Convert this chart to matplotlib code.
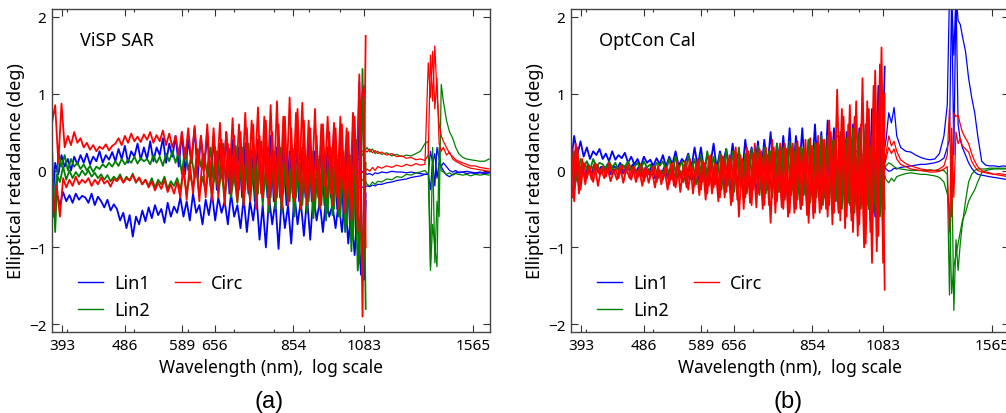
import numpy as np
import matplotlib.pyplot as plt
from matplotlib.ticker import FixedLocator, LogLocator, NullFormatter

# wavelength sampling of the visible/near-IR spectrograph (nm), 100 channels;
# the second trace of each pair sits on the staggered (half-step) channels
VIS_NM = np.geomspace(380, 1090, 100)
VIS_NM_B = np.sqrt(VIS_NM * np.append(VIS_NM[1:], 1090))

# wavelengths of the IR channels (nm)
IR_NM = [914, 930, 950, 970, 990, 1010, 1030, 1050, 1070, 1085,
         1095, 1105, 1115, 1125, 1135, 1150, 1170, 1190, 1210, 1230,
         1250, 1270, 1290, 1310, 1330, 1345, 1355, 1365, 1375, 1385,
         1395, 1405, 1415, 1430, 1445, 1460, 1475, 1490, 1510, 1530,
         1550, 1575, 1600, 1625, 1650]

TICK_NM = [393, 486, 589, 656, 854, 1083, 1565]

# ---------------- (a) ViSP SAR ----------------
a_lin1_hi = [-0.60, 0.10, -0.05, 0.20, 0.05, 0.15, 0.00, 0.18, 0.08, 0.20,
             0.10, 0.22, 0.08, 0.18, 0.12, 0.25, 0.10, 0.20, 0.14, 0.24,
             0.12, 0.28, 0.15, 0.32, 0.10, 0.25, 0.18, 0.35, 0.14, 0.30,
             0.15, 0.38, 0.12, 0.30, 0.20, 0.42, 0.10, 0.35, 0.18, 0.45,
             0.05, 0.50, -0.05, 0.40, 0.10, 0.55, -0.10, 0.45, 0.00, 0.50,
             -0.20, 0.45, -0.25, 0.35, -0.15, 0.50, -0.30, 0.40, -0.20, 0.30,
             -0.35, 0.35, -0.30, 0.25, -0.40, 0.40, -0.25, 0.30, -0.35, 0.45,
             -0.40, 0.30, -0.35, 0.40, -0.45, 0.25, -0.30, 0.35, -0.40, 0.30,
             -0.35, 0.35, -0.40, 0.25, -0.30, 0.40, -0.45, 0.30, -0.35, 0.55,
             -0.50, 0.40, -0.60, 0.35, -0.70, 0.50, -0.90, 1.15, -1.40, -0.30]
a_lin1_lo = [-0.55, -0.30, -0.45, -0.28, -0.40, -0.32, -0.42, -0.30, -0.38, -0.33,
             -0.35, -0.42, -0.30, -0.45, -0.34, -0.40, -0.48, -0.38, -0.52, -0.44,
             -0.50, -0.65, -0.55, -0.75, -0.58, -0.86, -0.60, -0.70, -0.52, -0.66,
             -0.48, -0.62, -0.45, -0.58, -0.50, -0.68, -0.42, -0.60, -0.47, -0.55,
             -0.35, -0.60, -0.40, -0.65, -0.30, -0.55, -0.45, -0.70, -0.38, -0.58,
             -0.30, -0.65, -0.35, -0.55, -0.40, -0.70, -0.30, -0.60, -0.45, -0.75,
             -0.35, -0.80, -0.40, -0.65, -0.30, -0.90, -0.45, -1.00, -0.35, -0.70,
             -0.40, -1.02, -0.35, -0.75, -0.45, -0.95, -0.30, -0.70, -0.40, -0.85,
             -0.35, -0.90, -0.30, -0.65, -0.40, -0.80, -0.35, -0.60, -0.45, -0.75,
             -0.40, -0.80, -0.35, -0.95, -0.50, -1.10, -0.60, -1.35, -1.42, -0.40]
a_lin2_hi = [0.30, -0.80, 0.25, 0.05, 0.20, 0.00, 0.15, 0.05, 0.10, 0.02,
             0.08, 0.00, 0.06, -0.02, 0.05, 0.02, 0.08, 0.04, 0.10, 0.05,
             0.12, 0.06, 0.15, 0.08, 0.14, 0.10, 0.18, 0.09, 0.16, 0.12,
             0.15, 0.08, 0.20, 0.10, 0.18, 0.06, 0.22, 0.12, 0.25, 0.10,
             0.25, -0.05, 0.30, 0.00, 0.20, -0.10, 0.28, 0.05, 0.22, -0.05,
             0.30, -0.15, 0.25, -0.10, 0.35, -0.20, 0.28, -0.15, 0.32, -0.25,
             0.30, -0.25, 0.35, -0.20, 0.25, -0.30, 0.38, -0.25, 0.30, -0.35,
             0.25, -0.35, 0.30, -0.30, 0.20, -0.40, 0.28, -0.35, 0.22, -0.45,
             0.20, -0.40, 0.25, -0.50, 0.15, -0.45, 0.22, -0.55, 0.30, -0.50,
             0.15, -0.60, 0.25, -0.70, 0.20, -0.90, 0.40, -1.20, 1.32, -1.80]
a_lin2_lo = [-0.60, -0.05, -0.15, 0.05, -0.12, 0.00, -0.10, -0.02, -0.08, 0.00,
             -0.06, 0.00, -0.08, -0.03, -0.10, -0.05, -0.12, -0.06, -0.14, -0.08,
             -0.12, -0.05, -0.15, -0.08, -0.13, -0.04, -0.16, -0.10, -0.18, -0.12,
             -0.20, -0.10, -0.22, -0.12, -0.18, -0.08, -0.24, -0.14, -0.20, -0.10,
             -0.25, 0.00, -0.30, -0.05, -0.22, 0.05, -0.32, -0.08, -0.28, 0.02,
             -0.35, 0.05, -0.30, 0.00, -0.40, 0.10, -0.35, -0.05, -0.42, 0.08,
             -0.45, 0.10, -0.40, 0.00, -0.50, 0.15, -0.45, 0.05, -0.55, 0.10,
             -0.50, 0.05, -0.55, 0.10, -0.45, 0.00, -0.60, 0.12, -0.52, 0.05,
             -0.55, 0.10, -0.62, 0.00, -0.50, 0.15, -0.65, 0.05, -0.58, 0.10,
             -0.60, 0.15, -0.80, 0.05, -1.05, 0.20, -1.30, -0.70, -1.15, 0.10]
a_circ_hi = [0.62, 0.85, 0.10, 0.87, 0.30, 0.45, 0.33, 0.50, 0.36, 0.42,
             0.30, 0.36, 0.27, 0.33, 0.25, 0.31, 0.28, 0.34, 0.26, 0.32,
             0.35, 0.42, 0.33, 0.45, 0.36, 0.48, 0.38, 0.44, 0.37, 0.47,
             0.40, 0.50, 0.36, 0.46, 0.38, 0.52, 0.33, 0.48, 0.30, 0.45,
             0.20, 0.50, 0.15, 0.55, 0.10, 0.58, 0.05, 0.45, 0.00, 0.60,
             -0.10, 0.55, -0.05, 0.62, -0.15, 0.50, -0.10, 0.68, -0.20, 0.60,
             -0.15, 0.75, -0.25, 0.65, -0.10, 0.82, -0.30, 0.70, -0.20, 0.85,
             -0.25, 0.90, -0.30, 0.70, -0.20, 0.95, -0.35, 0.75, -0.15, 0.88,
             -0.30, 0.65, -0.25, 0.80, -0.35, 0.60, -0.20, 0.70, -0.30, 0.62,
             -0.35, 0.70, -0.25, 0.55, -0.40, 0.75, -0.30, 1.25, -1.90, 1.75]
a_circ_lo = [-0.55, -0.20, -0.60, -0.10, -0.22, -0.12, -0.20, -0.08, -0.18, -0.12,
             -0.16, -0.10, -0.20, -0.12, -0.18, -0.09, -0.17, -0.13, -0.21, -0.11,
             -0.14, -0.08, -0.16, -0.10, -0.13, -0.06, -0.15, -0.09, -0.18, -0.12,
             -0.22, -0.14, -0.26, -0.16, -0.24, -0.12, -0.28, -0.18, -0.30, -0.15,
             -0.35, 0.05, -0.38, 0.10, -0.30, 0.15, -0.40, 0.20, -0.35, 0.25,
             -0.40, 0.30, -0.35, 0.40, -0.45, 0.35, -0.30, 0.45, -0.40, 0.50,
             -0.45, 0.55, -0.40, 0.60, -0.50, 0.45, -0.35, 0.65, -0.45, 0.50,
             -0.40, 0.60, -0.50, 0.70, -0.45, 0.55, -0.40, 0.80, -0.50, 0.65,
             -0.45, 0.55, -0.40, 0.45, -0.50, 0.60, -0.35, 0.50, -0.45, 0.55,
             -0.50, 0.60, -0.55, 0.50, -0.65, 0.70, -0.80, 0.90, 1.10, -1.00]

a_ir_lin1_hi = [0.05, 0.06, 0.04, 0.05, 0.03, 0.02, 0.00, 0.01, -0.01, -0.02,
                -0.05, -0.04, -0.06, -0.03, -0.04, -0.02, -0.03, -0.01, -0.02, -0.02,
                -0.03, -0.02, -0.03, -0.04, -0.05, -0.05, 0.25, 0.10, 0.22, -0.10,
                0.10, 0.05, 0.00, -0.06, -0.08, -0.05, -0.03, -0.02, -0.02, -0.01,
                -0.02, -0.03, -0.02, -0.03, -0.03]
a_ir_lin1_lo = [-0.25, -0.22, -0.24, -0.20, -0.22, -0.21, -0.23, -0.20, -0.21, -0.22,
                -0.20, -0.21, -0.19, -0.20, -0.18, -0.18, -0.16, -0.15, -0.13, -0.12,
                -0.11, -0.09, -0.08, -0.07, -0.05, -0.04, -0.25, 0.15, -0.20, 0.30,
                0.15, 0.05, 0.10, 0.05, 0.00, -0.02, 0.00, -0.03, -0.02, -0.04,
                -0.03, -0.04, -0.03, -0.04, -0.03]
a_ir_lin2_hi = [0.10, 0.12, 0.08, 0.11, 0.09, 0.12, 0.10, 0.13, 0.15, 0.25,
                0.30, 0.24, 0.28, 0.22, 0.25, 0.21, 0.23, 0.19, 0.21, 0.18,
                0.20, 0.19, 0.22, 0.25, 0.35, 0.38, -1.25, 0.30, -1.20, -0.40,
                -0.60, 1.12, 0.90, 0.65, 0.50, 0.42, 0.30, 0.22, 0.17, 0.15,
                0.14, 0.13, 0.12, 0.12, 0.15]
a_ir_lin2_lo = [-0.10, -0.12, -0.08, -0.11, -0.13, -0.10, -0.12, -0.14, -0.15, -0.10,
                -0.18, -0.20, -0.15, -0.18, -0.14, -0.15, -0.11, -0.12, -0.08, -0.09,
                -0.05, -0.06, -0.03, -0.02, 0.00, -0.05, -1.30, -0.70, -1.00, -1.25,
                0.30, 0.00, -0.02, -0.05, -0.03, -0.06, -0.04, -0.05, -0.06, -0.05,
                -0.07, -0.05, -0.06, -0.05, -0.06]
a_ir_circ_hi = [0.20, 0.18, 0.20, 0.17, 0.19, 0.16, 0.18, 0.20, 0.22, 0.27,
                0.24, 0.28, 0.23, 0.26, 0.22, 0.24, 0.20, 0.22, 0.18, 0.19,
                0.16, 0.17, 0.14, 0.15, 0.13, 0.20, 1.50, 0.90, 1.62, 1.00,
                0.60, 0.45, 0.38, 0.30, 0.22, 0.18, 0.14, 0.12, 0.10, 0.08,
                0.06, 0.06, 0.04, 0.03, 0.02]
a_ir_circ_lo = [-0.05, -0.06, -0.04, -0.07, -0.05, -0.06, -0.04, -0.05, -0.03, -0.02,
                0.02, -0.01, 0.04, 0.00, 0.05, 0.03, 0.06, 0.04, 0.07, 0.05,
                0.08, 0.06, 0.09, 0.07, 0.08, 1.40, 0.95, 1.55, 0.80, 1.20,
                0.35, 0.25, 0.30, 0.20, 0.24, 0.15, 0.12, 0.10, 0.07, 0.05,
                0.03, 0.02, 0.01, 0.00, -0.01]

# ---------------- (b) OptCon Cal ----------------
b_lin1_hi = [0.10, 0.45, 0.20, 0.38, 0.18, 0.30, 0.15, 0.25, 0.20, 0.28,
             0.15, 0.22, 0.12, 0.25, 0.14, 0.20, 0.16, 0.23, 0.10, 0.18,
             0.08, 0.15, 0.05, 0.18, 0.10, 0.14, 0.06, 0.16, 0.08, 0.20,
             0.05, 0.18, 0.08, 0.25, 0.06, 0.15, 0.10, 0.22, 0.04, 0.30,
             0.05, 0.30, 0.00, 0.20, 0.08, 0.35, 0.02, 0.25, 0.10, 0.28,
             0.00, 0.35, 0.05, 0.25, -0.05, 0.40, 0.08, 0.30, 0.00, 0.38,
             -0.05, 0.40, 0.05, 0.50, -0.10, 0.35, 0.00, 0.45, -0.05, 0.55,
             -0.10, 0.45, 0.00, 0.55, -0.15, 0.40, -0.05, 0.60, -0.10, 0.50,
             -0.20, 0.65, -0.10, 0.55, -0.30, 0.45, -0.15, 0.50, -0.25, 0.60,
             -0.40, 0.55, -0.30, 0.60, -0.50, 0.80, -0.60, 1.10, -0.45, 1.35]
b_lin1_lo = [-0.30, 0.15, -0.20, 0.05, -0.10, 0.08, -0.05, 0.10, -0.02, 0.05,
             0.00, 0.08, -0.05, 0.06, 0.02, 0.10, -0.04, 0.05, 0.00, 0.08,
             -0.02, 0.06, -0.08, 0.04, -0.05, 0.08, -0.10, 0.02, -0.06, 0.05,
             -0.10, 0.05, -0.15, 0.08, -0.08, 0.02, -0.18, 0.06, -0.12, 0.04,
             -0.15, 0.10, -0.22, 0.05, -0.18, 0.12, -0.25, 0.08, -0.20, 0.10,
             -0.30, 0.15, -0.25, 0.10, -0.35, 0.20, -0.28, 0.12, -0.32, 0.18,
             -0.35, 0.20, -0.30, 0.25, -0.40, 0.15, -0.35, 0.22, -0.45, 0.20,
             -0.40, 0.25, -0.50, 0.20, -0.45, 0.30, -0.55, 0.22, -0.40, 0.28,
             -0.45, 0.30, -0.50, 0.25, -0.55, 0.35, -0.48, 0.20, -0.55, 0.30,
             -0.60, 0.30, -0.55, 0.40, -0.65, 0.35, -0.60, 0.45, -0.75, 0.20]
b_lin2_hi = [-0.20, 0.25, -0.10, 0.15, 0.05, 0.12, 0.00, 0.15, 0.05, 0.10,
             0.08, 0.02, 0.12, 0.04, 0.10, 0.00, 0.08, 0.05, 0.12, 0.02,
             0.05, 0.10, 0.00, 0.12, 0.04, 0.08, -0.02, 0.10, 0.06, 0.12,
             0.00, 0.15, -0.05, 0.18, 0.02, 0.12, -0.08, 0.20, 0.00, 0.15,
             -0.05, 0.20, -0.10, 0.25, 0.00, 0.18, -0.12, 0.22, -0.05, 0.28,
             -0.15, 0.25, -0.10, 0.30, -0.20, 0.22, -0.12, 0.28, -0.18, 0.32,
             -0.20, 0.30, -0.25, 0.25, -0.15, 0.35, -0.28, 0.30, -0.22, 0.38,
             -0.25, 0.35, -0.30, 0.28, -0.20, 0.40, -0.32, 0.35, -0.25, 0.45,
             -0.35, 0.45, -0.25, 0.40, -0.40, 0.50, -0.30, 0.42, -0.45, 0.55,
             -0.40, 0.50, -0.35, 0.60, -0.50, 0.45, -0.40, 0.55, -0.45, 0.40]
b_lin2_lo = [0.20, -0.15, 0.10, -0.05, 0.08, -0.02, 0.05, 0.00, 0.06, -0.04,
             0.02, -0.02, 0.05, 0.00, 0.04, -0.03, 0.06, 0.01, 0.03, -0.02,
             0.00, -0.06, 0.04, -0.08, 0.02, -0.05, 0.05, -0.10, 0.00, -0.06,
             0.02, -0.12, 0.06, -0.10, 0.00, -0.15, 0.05, -0.12, 0.08, -0.18,
             0.10, -0.15, 0.05, -0.20, 0.12, -0.18, 0.08, -0.25, 0.15, -0.20,
             0.15, -0.28, 0.20, -0.22, 0.12, -0.30, 0.18, -0.25, 0.22, -0.32,
             0.18, -0.30, 0.25, -0.35, 0.20, -0.28, 0.28, -0.38, 0.22, -0.32,
             0.25, -0.38, 0.30, -0.32, 0.22, -0.42, 0.28, -0.35, 0.32, -0.45,
             0.30, -0.45, 0.38, -0.40, 0.28, -0.50, 0.35, -0.42, 0.40, -0.55,
             0.35, -0.50, 0.40, -0.45, 0.30, -0.55, 0.45, -0.60, 0.38, -0.50]
b_circ_hi = [0.40, -0.40, 0.30, -0.25, 0.10, -0.10, 0.05, -0.15, 0.08, -0.05,
             0.05, -0.08, 0.10, -0.05, 0.02, -0.10, 0.06, -0.04, 0.08, -0.12,
             0.04, -0.10, 0.08, -0.14, 0.02, -0.08, 0.06, -0.15, 0.00, -0.12,
             0.05, -0.18, 0.10, -0.22, 0.02, -0.15, 0.12, -0.25, 0.05, -0.20,
             0.15, -0.25, 0.10, -0.30, 0.20, -0.22, 0.08, -0.35, 0.18, -0.28,
             0.20, -0.40, 0.30, -0.60, 0.15, -0.35, 0.25, -0.45, 0.35, -0.30,
             0.25, -0.45, 0.20, -0.68, 0.30, -0.40, 0.35, -0.50, 0.28, -0.55,
             0.35, -0.50, 0.30, -0.45, 0.40, -0.68, 0.32, -0.55, 0.45, -0.50,
             0.40, -0.60, 0.50, -0.55, 1.05, -0.65, 0.70, -0.60, 0.85, -0.80,
             0.90, -0.70, 1.20, -0.95, 0.80, -1.20, 1.30, -0.85, 1.60, -1.55]
b_circ_lo = [-0.35, 0.35, -0.30, 0.15, -0.18, 0.05, -0.12, 0.08, -0.20, 0.02,
             -0.10, 0.04, -0.14, 0.00, -0.12, 0.06, -0.16, 0.02, -0.10, 0.05,
             -0.15, 0.02, -0.20, 0.04, -0.16, 0.00, -0.22, 0.06, -0.18, 0.02,
             -0.25, 0.08, -0.20, 0.12, -0.28, 0.05, -0.22, 0.15, -0.30, 0.10,
             -0.32, 0.12, -0.38, 0.18, -0.30, 0.10, -0.40, 0.20, -0.35, 0.15,
             -0.45, 0.25, -0.38, 0.20, -0.50, 0.30, -0.42, 0.22, -0.48, 0.28,
             -0.50, 0.30, -0.45, 0.40, -0.55, 0.25, -0.48, 0.35, -0.60, 0.30,
             -0.55, 0.38, -0.50, 0.30, -0.58, 0.42, -0.62, 0.35, -0.55, 0.40,
             -0.50, 0.65, -0.70, 0.50, -0.55, 0.80, -0.75, 0.60, -0.65, 0.70,
             -0.85, 0.60, -1.00, 0.90, -0.80, 1.10, -1.05, 1.38, -1.20, 1.00]

b_ir_lin1_hi = [0.30, 0.45, 0.40, 0.32, 0.25, 0.20, 0.17, 0.16, 0.16, 0.18,
                0.40, 0.75, 0.62, 0.82, 0.45, 0.30, 0.25, 0.24, 0.20, 0.17,
                0.15, 0.14, 0.15, 0.22, 0.45, 0.85, 2.30, 2.30, 1.50, 2.30,
                1.95, 1.90, 1.75, 1.55, 1.20, 0.95, 0.75, 0.45, 0.12, 0.07,
                0.06, 0.06, 0.05, 0.06, 0.05]
b_ir_lin1_lo = [0.00, -0.05, 0.02, 0.03, 0.02, 0.03, 0.03, 0.04, 0.04, 0.06,
                0.02, -0.01, 0.00, 0.03, 0.02, 0.04, 0.05, 0.06, 0.07, 0.08,
                0.08, 0.09, 0.10, 0.12, 0.16, 0.30, 0.40, 2.30, 0.20, 2.30,
                0.60, 0.40, 0.30, 0.20, 0.10, 0.03, -0.02, -0.05, -0.06, -0.07,
                -0.08, -0.09, -0.10, -0.11, -0.12]
b_ir_lin2_hi = [0.00, 0.10, 0.05, 0.03, 0.01, 0.00, 0.01, 0.00, 0.00, 0.00,
                0.06, 0.10, 0.08, 0.05, 0.03, 0.02, 0.01, 0.00, 0.00, 0.00,
                0.00, 0.01, 0.00, 0.00, 0.00, -0.05, -1.62, 0.20, -1.82, -0.90,
                -1.30, -0.95, -0.70, -0.40, -0.15, -0.05, 0.00, 0.02, 0.02, 0.02,
                0.03, 0.03, 0.03, 0.03, 0.03]
b_ir_lin2_lo = [0.00, -0.10, -0.06, -0.03, -0.02, -0.01, -0.01, 0.00, 0.00, 0.00,
                -0.12, -0.16, -0.10, -0.14, -0.08, -0.06, -0.04, -0.03, -0.04, -0.05,
                -0.05, -0.06, -0.07, -0.09, -0.15, -0.30, -0.50, -1.60, -1.25, -1.10,
                -0.95, -0.80, -0.65, -0.55, -0.40, -0.32, -0.25, -0.15, -0.03, 0.00,
                0.01, 0.02, 0.02, 0.02, 0.02]
b_ir_circ_hi = [0.08, 0.10, 0.06, 0.05, 0.04, 0.05, 0.04, 0.05, 0.06, 0.08,
                0.22, 0.45, 0.32, 0.38, 0.25, 0.14, 0.09, 0.06, 0.04, 0.02,
                0.01, 0.00, 0.00, 0.02, 0.06, 0.20, 0.80, -0.60, 0.75, 0.70,
                0.72, 0.60, 0.50, 0.42, 0.35, 0.22, 0.12, 0.05, 0.00, -0.02,
                -0.03, -0.05, -0.04, -0.05, -0.06]
b_ir_circ_lo = [0.02, 0.04, 0.03, 0.02, 0.03, 0.02, 0.03, 0.02, 0.03, 0.04,
                0.15, 0.30, 0.22, 0.28, 0.15, 0.08, 0.05, 0.02, 0.01, 0.00,
                -0.01, -0.02, -0.02, -0.01, 0.02, 0.05, -0.80, 0.55, -0.35, 0.50,
                0.35, 0.42, 0.32, 0.28, 0.24, 0.12, 0.05, 0.00, -0.02, -0.03,
                -0.04, -0.05, -0.06, -0.07, -0.08]

panels = [
    dict(title='ViSP SAR', tag='(a)',
         vis=[(a_lin1_hi, a_lin1_lo), (a_lin2_hi, a_lin2_lo), (a_circ_hi, a_circ_lo)],
         ir=[(a_ir_lin1_hi, a_ir_lin1_lo), (a_ir_lin2_hi, a_ir_lin2_lo), (a_ir_circ_hi, a_ir_circ_lo)]),
    dict(title='OptCon Cal', tag='(b)',
         vis=[(b_lin1_hi, b_lin1_lo), (b_lin2_hi, b_lin2_lo), (b_circ_hi, b_circ_lo)],
         ir=[(b_ir_lin1_hi, b_ir_lin1_lo), (b_ir_lin2_hi, b_ir_lin2_lo), (b_ir_circ_hi, b_ir_circ_lo)]),
]
names = ['Lin1', 'Lin2', 'Circ']
colors = ['#0000ff', '#008000', '#ff0000']

plt.rcParams['font.family'] = ['Noto Sans', 'DejaVu Sans']

W, H = 1006, 414
fig = plt.figure(figsize=(W / 100, H / 100), dpi=100)
lefts = [52, 571]

for p, left in zip(panels, lefts):
    ax = fig.add_axes([left / W, 81 / H, 438 / W, 323 / H])
    for k in range(3):
        hi, lo = p['ir'][k]
        ax.plot(IR_NM, hi, color=colors[k], lw=0.9)
        ax.plot(IR_NM, lo, color=colors[k], lw=0.9)
    for k in range(3):
        hi, lo = p['vis'][k]
        ax.plot(VIS_NM, hi, color=colors[k], lw=1.3, label=names[k])
        ax.plot(VIS_NM_B, lo, color=colors[k], lw=1.3)

    ax.set_xscale('log')
    ax.set_xlim(380, 1655)
    ax.set_ylim(-2.1, 2.1)
    ax.xaxis.set_major_locator(FixedLocator(TICK_NM))
    ax.xaxis.set_major_formatter(plt.FixedFormatter([str(t) for t in TICK_NM]))
    ax.xaxis.set_minor_locator(LogLocator(subs=np.arange(1, 10)))
    ax.xaxis.set_minor_formatter(NullFormatter())
    ax.set_yticks([-2, -1, 0, 1, 2])
    ax.tick_params(which='both', direction='in', top=True, right=True, labelsize=11,
                   width=0.8, color='#333333')
    ax.tick_params(which='major', length=5, pad=4)
    ax.tick_params(which='minor', length=2.5)
    for s in ax.spines.values():
        s.set_color('#444444')
        s.set_linewidth(1.0)

    ax.set_xlabel('Wavelength (nm),  log scale', fontsize=12.5, labelpad=4)
    ax.set_ylabel('Elliptical retardance (deg)', fontsize=13)
    ax.yaxis.set_label_coords(-0.062, 0.5)
    ax.text(0.065, 0.905, p['title'], transform=ax.transAxes, fontsize=13, va='center')
    leg = ax.legend(loc='lower left', ncol=2, frameon=False, fontsize=13, handlelength=1.4,
                    handletextpad=0.6, columnspacing=1.4, borderaxespad=0.3,
                    bbox_to_anchor=(0.03, 0.0))
    for h in leg.get_lines():
        h.set_linewidth(1.0)
    ax.text(0.495, -0.215, p['tag'], transform=ax.transAxes, fontsize=17, ha='center',
            va='center', family=['Liberation Sans'])

fig.savefig('out.png', dpi=100)
